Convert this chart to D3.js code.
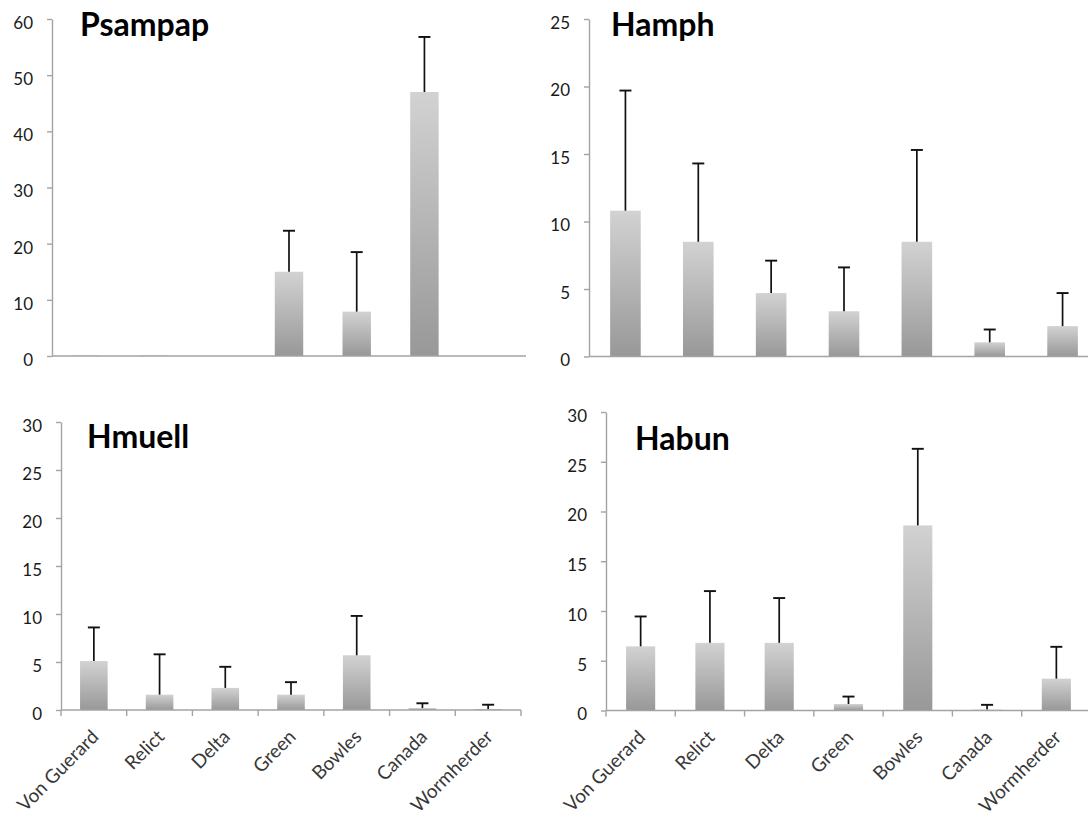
<!DOCTYPE html>
<html>
<head>
<meta charset="utf-8">
<script src="https://cdn.jsdelivr.net/npm/d3@7"></script>
<style>
  html, body { margin: 0; padding: 0; background: #ffffff; }
  svg { display: block; }
</style>
</head>
<body>
<svg id="chart" width="1088" height="816"></svg>
<script>
// Sites sampled, shared by all four panels
const categories = ["Von Guerard", "Relict", "Delta", "Green", "Bowles", "Canada", "Wormherder"];

// Mean abundance per site and its standard error (upper error bar only)
const psampapMean = [0.1, 0.1, 0, 15.0, 7.9, 47.0, 0];
const psampapErr  = [0, 0, 0, 7.3, 10.6, 9.8, 0];

const hamphMean = [10.8, 8.5, 4.7, 3.35, 8.5, 1.05, 2.25];
const hamphErr  = [8.9, 5.8, 2.4, 3.25, 6.8, 0.95, 2.45];

const hmuellMean = [5.1, 1.6, 2.3, 1.6, 5.7, 0.2, 0.1];
const hmuellErr  = [3.5, 4.2, 2.2, 1.3, 4.1, 0.5, 0.45];

const habunMean = [6.45, 6.8, 6.8, 0.65, 18.6, 0.1, 3.2];
const habunErr  = [3.0, 5.2, 4.5, 0.75, 7.7, 0.47, 3.2];

// Panel titles and y-axis tick values
const titles = ["Psampap", "Hamph", "Hmuell", "Habun"];
const psampapTicks = [0, 10, 20, 30, 40, 50, 60];
const hamphTicks   = [0, 5, 10, 15, 20, 25];
const hmuellTicks  = [0, 5, 10, 15, 20, 25, 30];
const habunTicks   = [0, 5, 10, 15, 20, 25, 30];

// Layout of each panel on the page
const panels = [
  { title: titles[0], mean: psampapMean, err: psampapErr, ticks: psampapTicks,
    x0: 52, x1: 526, yTop: 19, yBot: 356, tx: 80, ty: 36, xTicks: false, labels: false },
  { title: titles[1], mean: hamphMean, err: hamphErr, ticks: hamphTicks,
    x0: 589, x1: 1099, yTop: 19, yBot: 356.5, tx: 611, ty: 36, xTicks: false, labels: false },
  { title: titles[2], mean: hmuellMean, err: hmuellErr, ticks: hmuellTicks,
    x0: 61, x1: 521, yTop: 422, yBot: 710, tx: 87, ty: 448, xTicks: true, labels: true },
  { title: titles[3], mean: habunMean, err: habunErr, ticks: habunTicks,
    x0: 606, x1: 1091, yTop: 412, yBot: 710.5, tx: 635, ty: 450, xTicks: true, labels: true }
];

const FONT = "Lato, 'Open Sans', sans-serif";
const svg = d3.select("#chart");

// Vertical gradient used for every bar: light at the top, darker at the base
const defs = svg.append("defs");
const grad = defs.append("linearGradient")
  .attr("id", "barFill").attr("x1", 0).attr("y1", 0).attr("x2", 0).attr("y2", 1);
grad.append("stop").attr("offset", "0%").attr("stop-color", "#d2d2d2");
grad.append("stop").attr("offset", "100%").attr("stop-color", "#989898");

const axisColor = "#a3a3a3";

panels.forEach(p => {
  const g = svg.append("g");
  const n = categories.length;

  const x = d3.scaleBand().domain(categories).range([p.x0, p.x1])
    .paddingInner(0.58).paddingOuter(0.29);
  const y = d3.scaleLinear().domain([0, d3.max(p.ticks)]).range([p.yBot, p.yTop]);
  const slot = d3.scaleLinear().domain([0, n]).range([p.x0, p.x1]);

  // Y axis
  const yAxis = g.append("g").attr("transform", `translate(${p.x0},0)`)
    .call(d3.axisLeft(y).tickValues(p.ticks).tickSize(5).tickPadding(14).tickSizeOuter(0));
  yAxis.select(".domain").attr("stroke", axisColor).attr("stroke-width", 1.4);
  yAxis.selectAll(".tick line").attr("stroke", axisColor).attr("stroke-width", 1.4);
  yAxis.selectAll(".tick text")
    .attr("font-family", FONT).attr("font-size", 17).attr("fill", "#1a1a1a")
    .attr("dy", "0.55em");

  // Bars
  g.selectAll("rect.bar").data(categories).join("rect")
    .attr("class", "bar")
    .attr("x", d => x(d))
    .attr("width", x.bandwidth())
    .attr("y", (d, i) => y(p.mean[i]))
    .attr("height", (d, i) => y(0) - y(p.mean[i]))
    .attr("fill", "url(#barFill)");

  // Upper error bars
  const errData = categories.map((c, i) => ({ c, m: p.mean[i], e: p.err[i] })).filter(d => d.e > 0);
  const cx = d => x(d.c) + x.bandwidth() / 2;
  g.selectAll("line.err").data(errData).join("line")
    .attr("x1", cx).attr("x2", cx)
    .attr("y1", d => y(d.m)).attr("y2", d => y(d.m + d.e))
    .attr("stroke", "#111").attr("stroke-width", 1.7);
  g.selectAll("line.cap").data(errData).join("line")
    .attr("x1", d => cx(d) - 6).attr("x2", d => cx(d) + 6)
    .attr("y1", d => y(d.m + d.e)).attr("y2", d => y(d.m + d.e))
    .attr("stroke", "#111").attr("stroke-width", 1.9);

  // X axis baseline
  g.append("line")
    .attr("x1", p.x0).attr("x2", p.x1).attr("y1", y(0)).attr("y2", y(0))
    .attr("stroke", axisColor).attr("stroke-width", 1.4);

  // Tick marks between categories
  if (p.xTicks) {
    g.selectAll("line.xt").data(d3.range(n + 1)).join("line")
      .attr("x1", d => slot(d)).attr("x2", d => slot(d))
      .attr("y1", y(0)).attr("y2", y(0) + 6)
      .attr("stroke", axisColor).attr("stroke-width", 1.4);
  }

  // Rotated category labels
  if (p.labels) {
    g.selectAll("text.cat").data(categories).join("text")
      .attr("transform", d => `translate(${x(d) + x.bandwidth() / 2 + 6},${y(0) + 28}) rotate(-45)`)
      .attr("text-anchor", "end")
      .attr("font-family", FONT).attr("font-size", 19).attr("fill", "#383838")
      .text(d => d);
  }

  // Panel title
  g.append("text")
    .attr("x", p.tx).attr("y", p.ty)
    .attr("font-family", FONT).attr("font-weight", 700).attr("font-size", 32)
    .attr("fill", "#000")
    .text(p.title);
});
</script>
</body>
</html>
